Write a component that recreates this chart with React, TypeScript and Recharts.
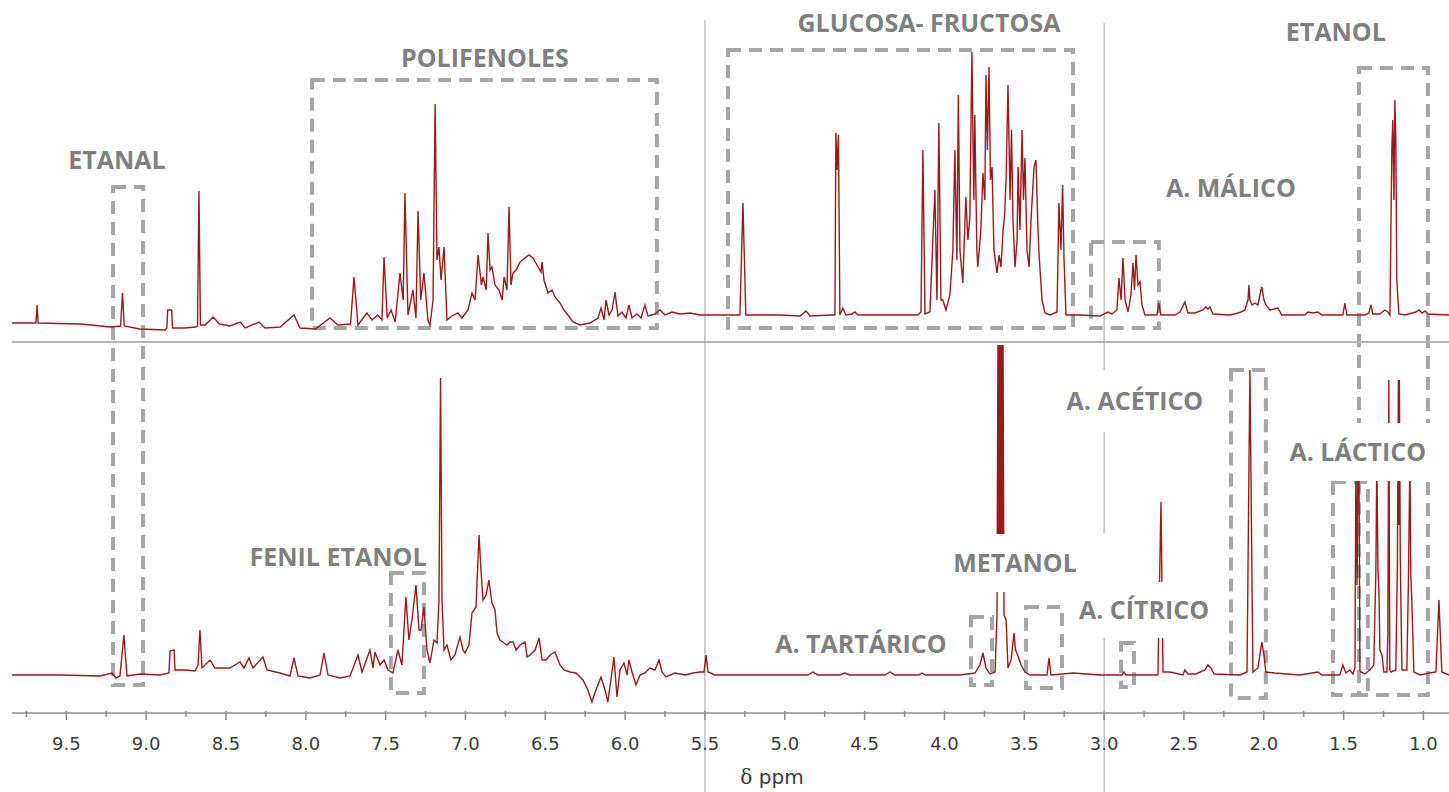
import React from 'react';
import {
  ComposedChart, Line, XAxis, YAxis, ReferenceArea, ReferenceLine, ReferenceDot,
} from 'recharts';

// upper trace: [ppm, intensity above its baseline]
const topSpectrum: [number, number][] = [
  [9.84, -3], [9.73, -3], [9.69, -3], [9.683, 15], [9.676, -3], [9.41, -4], [9.22, -7], [9.16, -6], [9.148, 27], [9.137, -6],
  [9.04, -9], [8.88, -10], [8.87, -8], [8.865, 10], [8.84, 10], [8.835, -8], [8.76, -8], [8.69, -7], [8.678, -6], [8.669, 129],
  [8.66, -5], [8.63, -5], [8.58, 3], [8.54, -4], [8.475, -6], [8.41, -2], [8.38, -8], [8.293, -2], [8.255, -8], [8.16, -7],
  [8.074, 5], [8.036, -8], [7.94, -9], [7.848, 2], [7.8, -5], [7.72, -4], [7.698, 43], [7.673, -5], [7.617, 7], [7.585, 0],
  [7.55, 5], [7.523, 0], [7.51, 63], [7.49, 2], [7.466, 10], [7.44, -2], [7.41, 47], [7.39, 20], [7.379, 127], [7.36, 5],
  [7.329, 30], [7.31, 2], [7.297, 109], [7.28, 20], [7.26, 47], [7.235, 0], [7.222, -5], [7.203, 20], [7.19, 216], [7.178, 60],
  [7.166, 73], [7.153, 40], [7.134, 73], [7.116, 0], [7.084, 4], [7.047, 7], [7.022, 2], [6.984, 10], [6.959, 27], [6.94, 20],
  [6.921, 65], [6.9, 35], [6.89, 43], [6.87, 30], [6.859, 87], [6.846, 50], [6.834, 53], [6.815, 35], [6.79, 30], [6.77, 20],
  [6.758, 43], [6.74, 30], [6.727, 113], [6.715, 35], [6.702, 47], [6.683, 50], [6.658, 58], [6.627, 62], [6.602, 65], [6.577, 62],
  [6.552, 55], [6.527, 48], [6.52, 58], [6.508, 40], [6.483, 27], [6.458, 30], [6.439, 23], [6.408, 17], [6.383, 10], [6.358, 5],
  [6.326, -2], [6.283, -5], [6.22, -3], [6.17, 2], [6.151, 12], [6.132, 0], [6.12, 20], [6.101, 5], [6.082, 10], [6.063, 28],
  [6.045, 4], [6.02, 8], [5.995, 2], [5.976, 15], [5.957, 2], [5.926, 6], [5.9, 2], [5.876, 15], [5.857, 4], [5.813, 6],
  [5.782, 10], [5.75, 5], [5.706, 8], [5.656, 6], [5.594, 7], [5.531, 5], [5.493, 5],
  [5.406, 5], [5.281, 5], [5.262, 117], [5.244, 5], [5.03, 5], [4.905, 4], [4.867, 9], [4.842, 4], [4.705, 5], [4.686, 5],
  [4.68, 187], [4.673, 150], [4.664, 185], [4.655, 5], [4.636, 12], [4.617, 5], [4.58, 6], [4.561, 8], [4.542, 5], [4.279, 5],
  [4.166, 5], [4.147, 8], [4.135, 170], [4.122, 6], [4.091, 8], [4.06, 130], [4.047, 20], [4.035, 197], [4.022, 20], [4.01, 20],
  [3.991, 10], [3.966, 25], [3.947, 70], [3.935, 170], [3.922, 60], [3.913, 225], [3.903, 70], [3.885, 37], [3.866, 123], [3.853, 80],
  [3.841, 103], [3.828, 268], [3.816, 120], [3.81, 205], [3.797, 70], [3.791, 53], [3.772, 90], [3.759, 147], [3.747, 120], [3.74, 245],
  [3.731, 170], [3.721, 253], [3.712, 140], [3.702, 153], [3.69, 70], [3.671, 47], [3.658, 65], [3.646, 53], [3.633, 90], [3.624, 103],
  [3.614, 140], [3.602, 235], [3.589, 120], [3.58, 190], [3.571, 100], [3.558, 53], [3.545, 80], [3.539, 153], [3.527, 90], [3.514, 190],
  [3.505, 120], [3.496, 162], [3.483, 70], [3.47, 53], [3.458, 100], [3.439, 153], [3.427, 160], [3.414, 90], [3.408, 67], [3.389, 20],
  [3.37, 7], [3.339, 5], [3.295, 8], [3.283, 117], [3.27, 70], [3.26, 135], [3.251, 60], [3.239, 5], [3.151, 5], [3.026, 4],
  [2.976, 8], [2.951, 6], [2.92, 10], [2.907, 42], [2.894, 20], [2.882, 62], [2.869, 20], [2.85, 8], [2.832, 25], [2.819, 57],
  [2.81, 30], [2.8, 65], [2.788, 35], [2.775, 38], [2.763, 15], [2.744, 5], [2.669, 5], [2.657, 17], [2.644, 5], [2.557, 5],
  [2.525, 8], [2.494, 18], [2.475, 7], [2.431, 7], [2.381, 10], [2.362, 13], [2.35, 11], [2.337, 13], [2.318, 6], [2.212, 5],
  [2.162, 7], [2.143, 8], [2.118, 10], [2.099, 20], [2.093, 35], [2.087, 20], [2.074, 15], [2.056, 17], [2.037, 15], [2.018, 30],
  [2.012, 33], [1.999, 20], [1.987, 15], [1.962, 10], [1.912, 12], [1.887, 5], [1.743, 5], [1.724, 8], [1.693, 7], [1.661, 8],
  [1.636, 5], [1.505, 5], [1.492, 17], [1.48, 5], [1.367, 5], [1.342, 7], [1.329, 15], [1.317, 6], [1.273, 6], [1.242, 10],
  [1.223, 8], [1.21, 5], [1.198, 170], [1.192, 200], [1.185, 120], [1.179, 220], [1.173, 180], [1.167, 40], [1.154, 6], [1.116, 5],
  [1.047, 8], [1.028, 10], [1.009, 7], [0.99, 9], [0.971, 6], [0.84, 5],
];

// lower trace: [ppm, intensity above its baseline]
const bottomSpectrum: [number, number][] = [
  [9.84, 0], [9.539, 0], [9.289, -1], [9.214, 2], [9.189, -3], [9.164, -1], [9.139, 40], [9.12, -1], [9.038, 1], [8.913, 0],
  [8.857, 2], [8.85, 24], [8.825, 25], [8.819, 5], [8.756, 5], [8.694, 4], [8.675, 10], [8.663, 45], [8.65, 7], [8.6, 15],
  [8.569, 7], [8.475, 7], [8.412, 13], [8.387, 7], [8.356, 17], [8.331, 7], [8.268, 18], [8.243, 5], [8.162, 2], [8.099, -1],
  [8.074, 17], [8.049, -1], [7.974, -3], [7.911, 0], [7.886, 22], [7.861, 0], [7.786, -3], [7.723, -1], [7.673, 20], [7.648, 3],
  [7.598, 25], [7.579, 7], [7.567, 23], [7.535, 10], [7.51, 15], [7.485, 5], [7.454, 2], [7.423, 25], [7.398, 10], [7.373, 78],
  [7.354, 35], [7.335, 55], [7.31, 90], [7.291, 45], [7.278, 45], [7.26, 68], [7.241, 25], [7.222, 12], [7.197, 35], [7.178, 32],
  [7.166, 75], [7.156, 297], [7.147, 75], [7.134, 25], [7.116, 30], [7.091, 15], [7.066, 20], [7.034, 38], [7.015, 25], [7.003, 22],
  [6.978, 30], [6.959, 62], [6.934, 68], [6.915, 140], [6.903, 105], [6.89, 75], [6.871, 80], [6.853, 95], [6.834, 72], [6.815, 65],
  [6.802, 42], [6.784, 35], [6.758, 32], [6.74, 30], [6.721, 33], [6.702, 33], [6.683, 25], [6.658, 30], [6.627, 33], [6.614, 18],
  [6.596, 20], [6.564, 25], [6.539, 37], [6.52, 15], [6.495, 15], [6.47, 20], [6.439, 23], [6.408, 10], [6.383, 5], [6.345, 3],
  [6.308, 2], [6.264, -5], [6.233, -15], [6.208, -27], [6.183, -15], [6.151, -2], [6.126, -15], [6.108, -27], [6.089, -5], [6.07, 18],
  [6.051, -22], [6.032, 5], [6.007, 12], [5.988, 0], [5.976, 15], [5.957, 3], [5.932, -10], [5.907, 0], [5.876, 2], [5.845, 7],
  [5.813, 5], [5.788, 15], [5.769, 3], [5.744, -2], [5.688, 2], [5.625, 0], [5.575, 2], [5.531, 3], [5.506, 3], [5.493, 20],
  [5.481, 3], [5.437, 0], [5.406, 0], [4.855, 0], [4.824, 3], [4.793, 0], [4.655, 0], [4.624, 2], [4.593, 0], [4.373, 0],
  [4.341, 3], [4.31, 0], [4.16, 0], [4.141, 2], [4.12, 0], [3.903, 0], [3.809, 2], [3.778, 10], [3.759, 22], [3.74, 7],
  [3.715, 1], [3.683, 3], [3.671, 60], [3.665, 330], [3.661, 120], [3.658, 330], [3.655, 120], [3.652, 330], [3.649, 120], [3.646, 330],
  [3.643, 120], [3.64, 330], [3.637, 120], [3.633, 330], [3.627, 60], [3.614, 55], [3.602, 7], [3.583, 15], [3.564, 42], [3.555, 25],
  [3.542, 20], [3.52, 10], [3.496, 3], [3.464, 0], [3.358, 0], [3.345, 17], [3.333, 0], [3.195, 2], [3.026, 0], [2.888, 0],
  [2.876, 3], [2.863, 0], [2.663, 0], [2.644, 173], [2.631, 3], [2.588, 3], [2.506, 0], [2.494, 5], [2.475, 1], [2.425, 1],
  [2.368, 5], [2.35, 10], [2.331, 7], [2.312, 1], [2.149, 0], [2.105, 3], [2.087, 305], [2.068, 3], [2.037, 7], [2.018, 27],
  [2.012, 33], [1.999, 20], [1.987, 3], [1.931, 2], [1.774, 0], [1.661, 3], [1.636, 0], [1.524, 0], [1.505, 10], [1.486, 2],
  [1.461, 5], [1.442, 1], [1.429, 7], [1.423, 215], [1.416, 90], [1.41, 215], [1.404, 215], [1.398, 5], [1.392, 3], [1.367, 1],
  [1.336, 5], [1.311, 10], [1.298, 105], [1.292, 215], [1.285, 105], [1.279, 85], [1.273, 25], [1.26, 20], [1.248, 3], [1.229, 3],
  [1.223, 40], [1.217, 295], [1.211, 5], [1.204, 3], [1.173, 5], [1.163, 115], [1.157, 295], [1.154, 150], [1.151, 295], [1.145, 115],
  [1.135, 5], [1.104, 5], [1.094, 95], [1.085, 215], [1.079, 100], [1.073, 75], [1.06, 3], [1.022, 0], [0.96, 2], [0.922, 3],
  [0.903, 75], [0.885, 3], [0.84, 0],
];

// x-axis: major ticks every 0.5 ppm, minor every 0.25
const ppmTicks = [9.75, 9.5, 9.25, 9.0, 8.75, 8.5, 8.25, 8.0, 7.75, 7.5, 7.25, 7.0, 6.75, 6.5, 6.25, 6.0, 5.75, 5.5, 5.25, 5.0,
  4.75, 4.5, 4.25, 4.0, 3.75, 3.5, 3.25, 3.0, 2.75, 2.5, 2.25, 2.0, 1.75, 1.5, 1.25, 1.0];

// dashed regions: [ppm from, ppm to, bottom, top] on the lower trace's scale
const regionBoxes: [number, number, number, number][] = [
  [9.207, 9.019, -10, 488],
  [7.961, 5.801, 347, 595],
  [5.356, 3.195, 347, 625],
  [3.082, 2.657, 347, 433],
  [1.404, 0.972, -20, 607],
  [7.467, 7.26, -18, 102],
  [3.834, 3.702, -10, 58],
  [3.489, 3.264, -13, 68],
  [2.894, 2.813, -12, 32],
  [2.205, 1.987, -23, 305],
  [1.567, 1.348, -20, 193],
];

const labelNames = ['ETANAL', 'POLIFENOLES', 'GLUCOSA- FRUCTOSA', 'ETANOL', 'A. MÁLICO', 'FENIL ETANOL', 'METANOL',
  'A. TARTÁRICO', 'A. CÍTRICO', 'A. ACÉTICO', 'A. LÁCTICO'];
const labelPpm = [9.183, 6.878, 4.097, 1.549, 2.206, 7.798, 3.558, 4.523, 2.75, 2.807, 1.411];
const labelLevel = [515, 617, 652, 643, 487, 118, 112, 31, 65, 274, 223];
// white backing behind some labels (width, height), as in the figure
const labelBacking: [number, number][] = [[0, 0], [0, 0], [0, 0], [0, 0], [0, 0], [0, 0], [190, 58], [0, 0], [140, 56], [150, 62], [150, 58]];

const RED = '#961b1b';
const GREY_TEXT = '#7f7f7f';

const toPoints = (rows: [number, number][]) => rows.map(([ppm, v]) => ({ ppm, v }));

const PpmTick = (props: any) => {
  const { x, y, payload } = props;
  const val: number = payload.value;
  const major = Math.abs(val * 2 - Math.round(val * 2)) < 1e-6;
  return (
    <g>
      <line x1={x} x2={x} y1={y - 2} y2={y + (major ? 7 : 4)} stroke="#8c8c8c" strokeWidth={1.5} />
      {major && (
        <text x={x} y={y + 37} textAnchor="middle" fontFamily="DejaVu Sans" fontSize={18} fill="#3a3a3a">
          {val.toFixed(1)}
        </text>
      )}
    </g>
  );
};

const makeLabel = (text: string, bw: number, bh: number) => (p: any) => (
  <g>
    {bw > 0 && <rect x={p.cx - bw / 2} y={p.cy - bh / 2} width={bw} height={bh} fill="#ffffff" />}
    <text x={p.cx} y={p.cy} dy="0.36em" textAnchor="middle" fontFamily="Open Sans" fontWeight={700}
      fontSize={25} fill={GREY_TEXT}>
      {text}
    </text>
  </g>
);

const axisTitle = (p: any) => (
  <text x={p.cx} y={p.cy} dy="0.36em" textAnchor="middle" fontSize={20} fill="#3a3a3a">
    <tspan fontFamily="DejaVu Serif">δ</tspan>
    <tspan fontFamily="DejaVu Sans"> ppm</tspan>
  </text>
);

export default function App() {
  return (
    <div style={{ position: 'absolute', left: 0, top: 0, width: 1449, height: 792, background: '#fff' }}>
      <ComposedChart width={1449} height={792} margin={{ top: 0, right: 0, bottom: 0, left: 12 }}>
        <XAxis
          dataKey="ppm"
          type="number"
          domain={[0.84, 9.84]}
          reversed
          allowDataOverflow
          ticks={ppmTicks}
          interval={0}
          height={79}
          tickSize={0}
          tickMargin={0}
          tickLine={false}
          axisLine={{ stroke: '#ababab', strokeWidth: 2 }}
          tick={<PpmTick />}
        />
        <YAxis yAxisId="t" hide domain={[-393, 320]} allowDataOverflow />
        <YAxis yAxisId="b" hide domain={[-38, 675]} allowDataOverflow />

        <ReferenceLine yAxisId="b" y={333} stroke="#b4b4b4" strokeWidth={2} />
        <ReferenceLine yAxisId="b" ifOverflow="visible" stroke="#a0a0a0" strokeWidth={1}
          segment={[{ x: 5.5, y: 655 }, { x: 5.5, y: -117 }]} />
        <ReferenceLine yAxisId="b" ifOverflow="visible" stroke="#a0a0a0" strokeWidth={1}
          segment={[{ x: 3.0, y: 652 }, { x: 3.0, y: -117 }]} />

        <Line yAxisId="t" data={toPoints(topSpectrum)} dataKey="v" type="linear" dot={false}
          stroke={RED} strokeWidth={1.4} isAnimationActive={false} />
        <Line yAxisId="b" data={toPoints(bottomSpectrum)} dataKey="v" type="linear" dot={false}
          stroke={RED} strokeWidth={1.4} isAnimationActive={false} />

        {regionBoxes.map(([x1, x2, y1, y2], i) => (
          <ReferenceArea key={`box-${i}`} yAxisId="b" x1={x1} x2={x2} y1={y1} y2={y2} ifOverflow="visible"
            fill="none" stroke="#a5a5a5" strokeWidth={4} strokeDasharray="13 8" />
        ))}

        {labelNames.map((name, i) => (
          <ReferenceDot key={`lbl-${i}`} yAxisId="b" x={labelPpm[i]} y={labelLevel[i]} r={0} ifOverflow="visible"
            shape={makeLabel(name, labelBacking[i][0], labelBacking[i][1])} />
        ))}
        <ReferenceDot yAxisId="b" x={5.08} y={-102} r={0} ifOverflow="visible" shape={axisTitle} />
      </ComposedChart>
    </div>
  );
}
